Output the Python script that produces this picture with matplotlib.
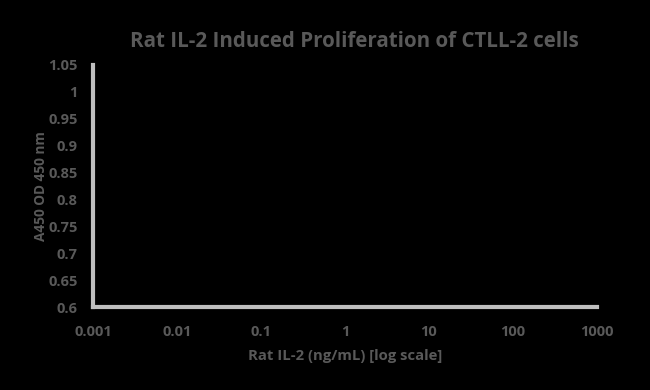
import matplotlib
matplotlib.use("Agg")
import matplotlib.pyplot as plt
from matplotlib.ticker import FixedLocator, FixedFormatter

TITLE = "Rat IL-2 Induced Proliferation of CTLL-2 cells"
X_LABEL = "Rat IL-2 (ng/mL) [log scale]"
Y_LABEL = "A450 OD 450 nm"

x_ticks = [0.001, 0.01, 0.1, 1, 10, 100, 1000]
x_tick_labels = ["0.001", "0.01", "0.1", "1", "10", "100", "1000"]
y_ticks = [0.6, 0.65, 0.7, 0.75, 0.8, 0.85, 0.9, 0.95, 1.0, 1.05]
y_tick_labels = ["0.6", "0.65", "0.7", "0.75", "0.8", "0.85", "0.9", "0.95", "1", "1.05"]

TEXT_COLOR = "#595959"
AXIS_COLOR = "#bfbfbf"

plt.rcParams["font.family"] = ["Open Sans", "DejaVu Sans"]

fig = plt.figure(figsize=(6.5, 3.9), dpi=100, facecolor="black")
ax = fig.add_axes([0.143, 0.212, 0.775, 0.622], facecolor="black")

ax.set_xscale("log")
ax.set_xlim(x_ticks[0], x_ticks[-1])
ax.set_ylim(y_ticks[0], y_ticks[-1])

ax.xaxis.set_major_locator(FixedLocator(x_ticks))
ax.xaxis.set_major_formatter(FixedFormatter(x_tick_labels))
ax.xaxis.set_minor_locator(FixedLocator([]))
ax.yaxis.set_major_locator(FixedLocator(y_ticks))
ax.yaxis.set_major_formatter(FixedFormatter(y_tick_labels))

for side in ("top", "right"):
    ax.spines[side].set_visible(False)
for side in ("left", "bottom"):
    ax.spines[side].set_color(AXIS_COLOR)
    ax.spines[side].set_linewidth(3)

ax.tick_params(axis="both", length=0, labelsize=10.5, labelcolor=TEXT_COLOR)
ax.tick_params(axis="x", pad=13)
ax.tick_params(axis="y", pad=11)
for lbl in ax.get_xticklabels() + ax.get_yticklabels():
    lbl.set_fontweight("bold")

ax.set_xlabel(X_LABEL, color=TEXT_COLOR, fontsize=10.7, fontweight="bold", labelpad=7)
ax.set_ylabel(Y_LABEL, color=TEXT_COLOR, fontsize=9.8, fontweight="bold", labelpad=0)
fig.suptitle(TITLE, color=TEXT_COLOR, fontsize=14.8, fontweight="bold", x=0.545, y=0.92)

fig.savefig("out.png", dpi=100, facecolor="black")
